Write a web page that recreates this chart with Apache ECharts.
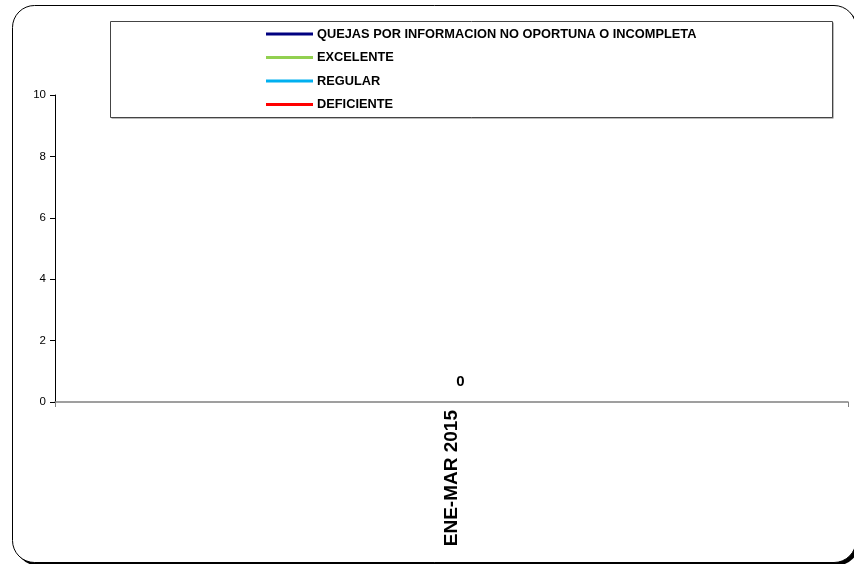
<!DOCTYPE html>
<html>
<head>
<meta charset="utf-8">
<script src="https://cdn.jsdelivr.net/npm/echarts@6/dist/echarts.min.js"></script>
<style>
html,body{margin:0;padding:0;background:#fff;}
#c{width:854px;height:564px;}
</style>
</head>
<body>
<div id="c"></div>
<script>
var categories = ['ENE-MAR 2015'];
var seriesNames = ['QUEJAS POR INFORMACION NO OPORTUNA O INCOMPLETA', 'EXCELENTE', 'REGULAR', 'DEFICIENTE'];
var quejas = [0];
var excelente = [0];
var regular = [0];
var deficiente = [0];
var yTicks = [0, 2, 4, 6, 8, 10];
var colors = ['#000080', '#92D050', '#00B0F0', '#FF0000'];
var values = [quejas, excelente, regular, deficiente];

var chart = echarts.init(document.getElementById('c'), null, {renderer: 'canvas'});
var series = seriesNames.map(function (n, i) {
  return {
    name: n,
    type: 'line',
    data: values[i],
    symbol: 'circle',
    symbolSize: 0.1,
    lineStyle: {color: colors[i], width: 3},
    itemStyle: {color: colors[i]},
    label: {
      show: i === 3,
      position: 'top',
      distance: 13,
      offset: [9, 0],
      color: '#000',
      fontFamily: 'Liberation Sans',
      fontWeight: 'bold',
      fontSize: 15
    },
    emphasis: {disabled: true}
  };
});

chart.setOption({
  animation: false,
  backgroundColor: '#fff',
  grid: {left: 55, right: 6, top: 95, bottom: 162, containLabel: false},
  legend: {
    orient: 'vertical',
    left: 266,
    top: 27,
    padding: 0,
    icon: 'rect',
    itemWidth: 47,
    itemHeight: 3,
    itemGap: 9.5,
    data: seriesNames.map(function (n, i) { return {name: n, itemStyle: {color: colors[i]}}; }),
    textStyle: {color: '#000', fontFamily: 'Liberation Sans', fontWeight: 'bold', fontSize: 12.8, lineHeight: 14, padding: [0, 0, 0, -1]},
    selectedMode: false
  },
  xAxis: {
    type: 'category',
    data: categories,
    boundaryGap: true,
    axisLine: {lineStyle: {color: '#808080', width: 1.5}},
    axisTick: {show: true, length: 5, lineStyle: {color: '#808080'}},
    axisLabel: {rotate: 90, margin: 8, color: '#000', fontFamily: 'Liberation Sans', fontWeight: 'bold', fontSize: 19}
  },
  yAxis: {
    type: 'value',
    min: 0, max: 10, interval: 2,
    axisLine: {show: true, lineStyle: {color: '#000', width: 1}},
    axisTick: {show: true, length: 5, lineStyle: {color: '#000'}},
    axisLabel: {color: '#000', fontFamily: 'Liberation Sans', fontSize: 11.5, margin: 9,
      formatter: function (v) { return yTicks.indexOf(v) >= 0 ? String(v) : ''; }},
    splitLine: {show: false}
  },
  graphic: [
    {
      type: 'rect', z: -11, silent: true,
      shape: {x: 15.5, y: 8.5, width: 843.5, height: 557, r: 22},
      style: {fill: '#000', stroke: null}
    },
    {
      type: 'rect', z: -10, silent: true,
      shape: {x: 12.5, y: 5.5, width: 843.5, height: 557, r: 22},
      style: {fill: '#fff', stroke: '#000', lineWidth: 1}
    },
    {
      type: 'rect', z: -6, silent: true,
      shape: {x: 111.5, y: 22.5, width: 722, height: 96},
      style: {fill: '#777', stroke: null}
    },
    {
      type: 'rect', z: -5, silent: true,
      shape: {x: 110.5, y: 21.5, width: 722, height: 96},
      style: {fill: '#fff', stroke: '#444', lineWidth: 1}
    }
  ],
  series: series
});
</script>
</body>
</html>
